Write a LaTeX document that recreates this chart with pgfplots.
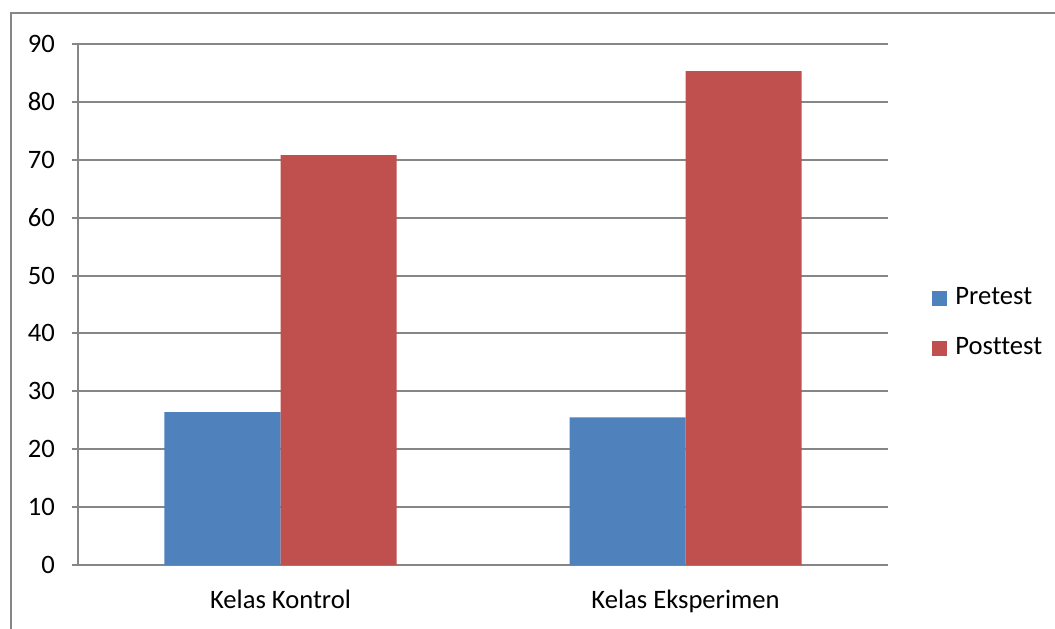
\documentclass[border=0pt]{standalone}
\usepackage{pgfplots}
\pgfplotsset{compat=1.18}
\usepackage{fontspec}
\setmainfont[Ligatures=NoCommon]{Carlito}

\definecolor{barblue}{HTML}{4F81BD}
\definecolor{barred}{HTML}{C0504D}
\definecolor{linegray}{HTML}{868686}

\begin{document}
\begin{tikzpicture}
	% image is 1055x628 px, one px = 0.5pt
	\useasboundingbox (0,0) rectangle (527.5pt,314pt);
	\draw[linegray, line width=1pt] (5.25pt,-2pt) -- (5.25pt,307.25pt) -- (530pt,307.25pt);

	\begin{axis}[
		at={(39pt,31.5pt)}, anchor=south west,
		scale only axis,
		width=405pt, height=260.5pt,
		ybar=0pt, bar width=58pt,
		xmin=-0.5, xmax=1.5,
		ymin=0, ymax=90,
		ytick distance=10,
		xtick={0,1},
		xticklabels={Kelas Kontrol, Kelas Eksperimen},
		x tick style={draw=none},
		extra x ticks={-0.5,0.5,1.5},
		extra x tick labels={},
		extra x tick style={tick style={draw=linegray, line width=1pt}, major tick length=3.5pt},
		axis lines*=left,
		axis line style={linegray, line width=1pt, -},
		ymajorgrids,
		major grid style={linegray, line width=1pt},
		y tick style={linegray, line width=1pt},
		tick align=outside,
		major tick length=3pt,
		/pgf/number format/assume math mode=true,
		tick label style={font=\fontsize{13.3}{15}\selectfont},
		yticklabel style={xshift=-5pt},
		xticklabel style={yshift=-6pt},
		legend style={
			at={(1.047,0.4655)}, anchor=west,
			draw=none, fill=none,
			font=\fontsize{13.3}{15}\selectfont,
			row sep=12.5pt,
			nodes={inner sep=1pt, anchor=west},
			/tikz/every odd column/.append style={column sep=3pt},
		},
		legend cell align=left,
		legend image code/.code={\fill[#1] (0pt,-4.25pt) rectangle (7.5pt,3.25pt);},
		]

		\addplot[fill=barblue, draw=none] coordinates {(0,26.4) (1,25.5)};
		\addplot[fill=barred, draw=none] coordinates {(0,70.8) (1,85.3)};

		\legend{Pretest, Posttest}
	\end{axis}
\end{tikzpicture}
\end{document}
